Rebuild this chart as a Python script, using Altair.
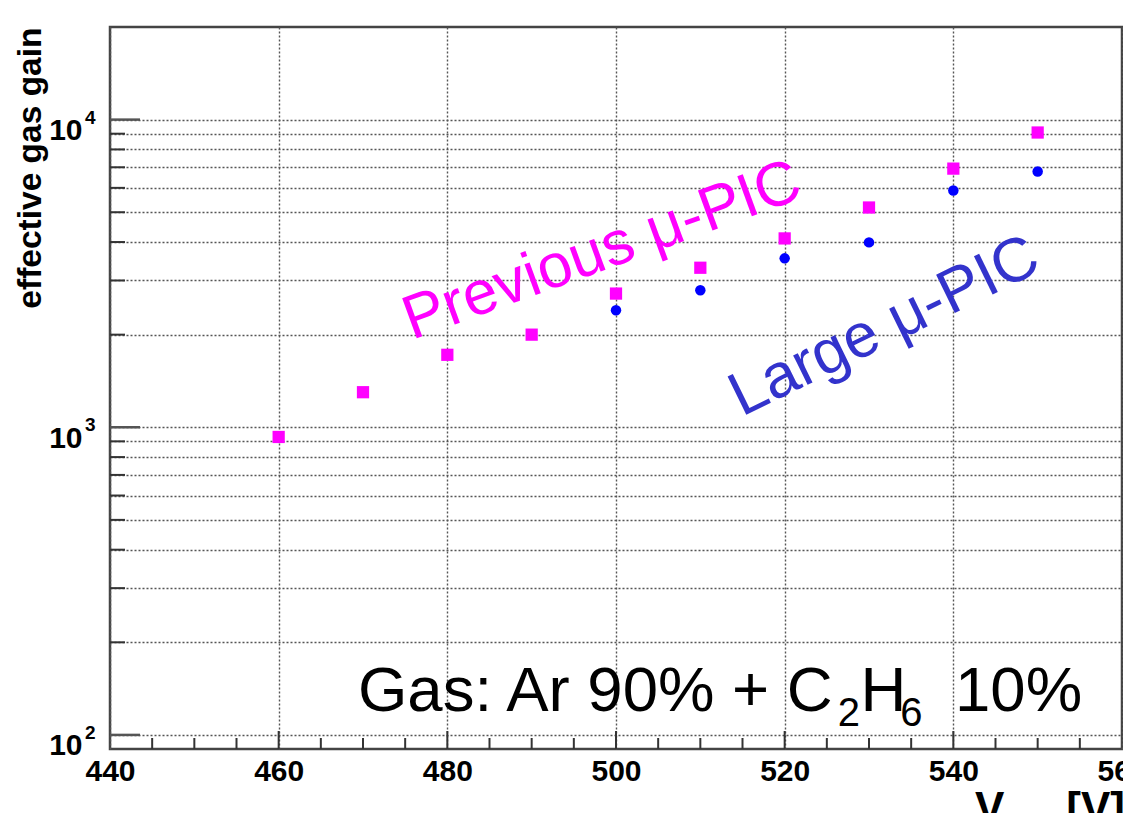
import altair as alt
import pandas as pd

# ---- data ----
volt_prev = [460, 470, 480, 490, 500, 510, 520, 530, 540, 550]
gain_prev = [930, 1300, 1720, 2000, 2720, 3300, 4110, 5180, 6930, 9080]
volt_large = [500, 510, 520, 530, 540, 550]
gain_large = [2400, 2790, 3540, 3990, 5880, 6780]

x_major = [440, 460, 480, 500, 520, 540, 560]
x_minor = [445, 450, 455, 465, 470, 475, 485, 490, 495, 505, 510, 515,
           525, 530, 535, 545, 550, 555]
y_major = [100, 1000, 10000]
y_major_exp = ["2", "3", "4"]
y_minor = [200, 300, 400, 500, 600, 700, 800, 900,
           2000, 3000, 4000, 5000, 6000, 7000, 8000, 9000]

# annotations (text, x [V], y [gain], font size, angle, colour)
ann_text = ["Previous \u03bc-PIC", "Large \u03bc-PIC", "Gas: Ar 90% + C", "2", "H", "6", "10%"]
ann_x = [475.8, 514.9, 469.4, 526.3, 529.0, 533.7, 540.2]
ann_y = [1921, 1080, 119.6, 106.9, 119.6, 106.9, 119.6]
ann_size = [62, 62, 63.5, 40, 63.5, 40, 63.5]
ann_angle = [340, 334, 0, 0, 0, 0, 0]
ann_color = ["#ff00ff", "#3333cc", "#000000", "#000000", "#000000", "#000000", "#000000"]

FONT = "Liberation Sans"
W, H = 1012, 722

xscale = alt.Scale(domain=[440, 560], nice=False, zero=False)
yscale = alt.Scale(type="log", domain=[90, 20000], nice=False)

prev_df = pd.DataFrame({"v": volt_prev, "g": gain_prev})
large_df = pd.DataFrame({"v": volt_large, "g": gain_large})
ann_df = pd.DataFrame({"t": ann_text, "x": ann_x, "y": ann_y, "s": ann_size,
                       "a": ann_angle, "c": ann_color})

label_expr = ("(datum.value == 100 || datum.value == 1000 || datum.value == 10000) ? '10' : ''")

xaxis = alt.Axis(values=x_major, grid=True, ticks=False, domain=False,
                 gridColor="#555", gridDash=[2, 2], gridWidth=1.4,
                 labelFont=FONT, labelFontSize=30, labelFontWeight="bold",
                 labelColor="#000", labelFlush=False, labelOverlap=False,
                 labelPadding=7, title=None)
yaxis = alt.Axis(values=y_major + y_minor, grid=True, ticks=False, domain=False,
                 gridColor="#555", gridDash=[2, 2], gridWidth=1.4,
                 labelExpr=label_expr, labelFont=FONT, labelFontSize=30,
                 labelFontWeight="bold", labelColor="#000", labelOverlap=False,
                 labelPadding=28, labelBaseline="alphabetic", labelOffset=20,
                 title="effective gas gain", titleFont=FONT, titleFontSize=33.5,
                 titleFontWeight="bold", titleColor="#000", titleAnchor="end",
                 titleAngle=270, titleAlign="right", titleBaseline="alphabetic",
                 titleX=-70, titleY=0)

prev = alt.Chart(prev_df).mark_square(size=150, color="#ff00ff", opacity=1).encode(
    x=alt.X("v:Q", scale=xscale, axis=xaxis),
    y=alt.Y("g:Q", scale=yscale, axis=yaxis),
)
large = alt.Chart(large_df).mark_circle(size=110, color="#0000ff", opacity=1).encode(
    x=alt.X("v:Q", scale=xscale),
    y=alt.Y("g:Q", scale=yscale),
)

# superscript exponents of the y labels
sup_df = pd.DataFrame({"g": y_major, "e": y_major_exp})
sup = alt.Chart(sup_df).mark_text(font=FONT, fontWeight="bold", fontSize=19,
                                  align="left", baseline="alphabetic", dy=4,
                                  color="#000").encode(
    y=alt.Y("g:Q", scale=yscale), x=alt.value(-25), text="e:N")

# tick marks (inside the frame, ROOT style)
ymaj_df = pd.DataFrame({"g": y_major})
ymin_df = pd.DataFrame({"g": y_minor})
xmaj_df = pd.DataFrame({"v": x_major[1:-1]})
xmin_df = pd.DataFrame({"v": x_minor})

yt_major = alt.Chart(ymaj_df).mark_rule(color="#555", strokeWidth=2.5).encode(
    y=alt.Y("g:Q", scale=yscale), x=alt.value(0), x2=alt.value(30))
yt_minor = alt.Chart(ymin_df).mark_rule(color="#333", strokeWidth=2).encode(
    y=alt.Y("g:Q", scale=yscale), x=alt.value(0), x2=alt.value(15))
xt_major = alt.Chart(xmaj_df).mark_rule(color="#333", strokeWidth=2).encode(
    x=alt.X("v:Q", scale=xscale), y=alt.value(H), y2=alt.value(H - 18))
xt_minor = alt.Chart(xmin_df).mark_rule(color="#333", strokeWidth=2).encode(
    x=alt.X("v:Q", scale=xscale), y=alt.value(H), y2=alt.value(H - 11))

ann = alt.Chart(ann_df).mark_text(font=FONT, align="left", baseline="alphabetic").encode(
    x=alt.X("x:Q", scale=xscale),
    y=alt.Y("y:Q", scale=yscale),
    text="t:N",
    size=alt.Size("s:Q", scale=None),
    angle=alt.Angle("a:Q", scale=None),
    color=alt.Color("c:N", scale=None),
)

# x-axis title pieces (V_Anode [V])
t_v = alt.Chart().mark_text(font=FONT, fontWeight="bold", fontSize=44, align="left",
                            baseline="alphabetic", color="#000").encode(
    x=alt.value(865), y=alt.value(796), text=alt.value("V"))
t_anode = alt.Chart().mark_text(font=FONT, fontWeight="bold", fontSize=20, align="left",
                                baseline="alphabetic", color="#000").encode(
    x=alt.value(893), y=alt.value(801), text=alt.value("Anode"))
t_unit = alt.Chart().mark_text(font=FONT, fontWeight="bold", fontSize=44, align="right",
                               baseline="alphabetic", color="#000").encode(
    x=alt.value(1015), y=alt.value(796), text=alt.value("[V]"))

chart = alt.layer(prev, large, sup, yt_major, yt_minor, xt_major, xt_minor, ann,
                  t_v, t_anode, t_unit).properties(
    width=W, height=H,
    autosize=alt.AutoSizeParams(type="none"),
    padding={"left": 102, "top": 19, "right": 1, "bottom": 64},
    background="white",
).configure_view(stroke="#444", strokeWidth=2.5)

chart.save("out.html", embed_options={"renderer": "svg", "actions": False})
